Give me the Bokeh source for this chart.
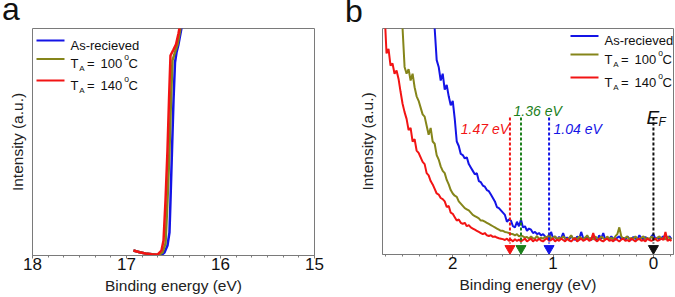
from bokeh.plotting import figure
from bokeh.models import Range1d, SingleIntervalTicker, FixedTicker, Label, Div
from bokeh.layouts import row, column
from bokeh.embed import file_html
from bokeh.resources import INLINE

FONT = "Liberation Sans"
GRAY = "#7a7a7a"
BLUE = "#1414e6"
OLIVE = "#85851a"
RED = "#f21414"
GREEN = "#1b7f1b"
BLACK = "#111111"

# ---------------- panel a data (binding energy eV, normalised intensity) ----------
a_blue_E = [16.926, 16.86, 16.798, 16.73, 16.670, 16.628, 16.596, 16.564, 16.543, 16.532,
            16.516, 16.500, 16.484, 16.468, 16.447, 16.426, 16.404]
a_blue_I = [0.022, 0.014, 0.009, 0.006, 0.001, 0.002, 0.013, 0.044, 0.101, 0.242,
            0.463, 0.683, 0.850, 0.894, 0.930, 0.978, 1.026]
a_olive_E = [16.926, 16.86, 16.798, 16.73, 16.660, 16.617, 16.585, 16.564, 16.543, 16.527,
             16.511, 16.479, 16.457, 16.436, 16.415]
a_olive_I = [0.022, 0.014, 0.009, 0.006, 0.002, 0.013, 0.053, 0.242, 0.463, 0.683,
             0.859, 0.903, 0.930, 0.978, 1.026]
a_red_E = [16.926, 16.86, 16.798, 16.73, 16.670, 16.628, 16.606, 16.585, 16.564, 16.548,
           16.532, 16.500, 16.473, 16.447, 16.426]
a_red_I = [0.022, 0.014, 0.009, 0.006, 0.004, 0.022, 0.066, 0.242, 0.463, 0.683,
           0.881, 0.907, 0.930, 0.978, 1.026]

# ---------------- panel b data ----------------
b_E = [2.70, 2.68, 2.66, 2.64, 2.62, 2.60, 2.58, 2.56, 2.54, 2.52,
       2.50, 2.48, 2.46, 2.44, 2.42, 2.40, 2.38, 2.36, 2.34, 2.32,
       2.30, 2.28, 2.26, 2.24, 2.22, 2.20, 2.18, 2.16, 2.14, 2.12,
       2.10, 2.08, 2.06, 2.04, 2.02, 2.00, 1.98, 1.96, 1.94, 1.92,
       1.90, 1.88, 1.86, 1.84, 1.82, 1.80, 1.78, 1.76, 1.74, 1.72,
       1.70, 1.68, 1.66, 1.64, 1.62, 1.60, 1.58, 1.56, 1.54, 1.52,
       1.50, 1.48, 1.46, 1.44, 1.42, 1.40, 1.38, 1.36, 1.34, 1.32,
       1.30, 1.28, 1.26, 1.24, 1.22, 1.20, 1.18, 1.16, 1.14, 1.12,
       1.10, 1.08, 1.06, 1.04, 1.02, 1.00, 0.98, 0.96, 0.94, 0.92,
       0.90, 0.88, 0.86, 0.84, 0.82, 0.80, 0.78, 0.76, 0.74, 0.72,
       0.70, 0.68, 0.66, 0.64, 0.62, 0.60, 0.58, 0.56, 0.54, 0.52,
       0.50, 0.48, 0.46, 0.44, 0.42, 0.40, 0.38, 0.36, 0.34, 0.32,
       0.30, 0.28, 0.26, 0.24, 0.22, 0.20, 0.18, 0.16, 0.14, 0.12,
       0.10, 0.08, 0.06, 0.04, 0.02, 0.00, -0.02, -0.04, -0.06, -0.08,
       -0.10, -0.12, -0.14, -0.16, -0.18]
b_blue = [2.6, 2.5, 2.4, 2.3, 2.2, 2.1, 2.0, 1.9, 1.8, 1.7,
          1.65, 1.6, 1.55, 1.5, 1.45, 1.4, 1.35, 1.3, 1.27, 1.24,
          1.2, 1.17, 1.14, 1.11, 1.08, 1.04, 1.0, 0.86, 0.83, 0.77,
          0.80, 0.73, 0.75, 0.70, 0.66, 0.68, 0.60, 0.50, 0.48, 0.445,
          0.44, 0.425, 0.43, 0.40, 0.385, 0.37, 0.355, 0.36, 0.325, 0.32,
          0.305, 0.30, 0.285, 0.28, 0.265, 0.25, 0.235, 0.21, 0.205, 0.195,
          0.185, 0.175, 0.145, 0.155, 0.15, 0.125, 0.12, 0.145, 0.125, 0.155,
          0.12, 0.125, 0.105, 0.115, 0.11, 0.095, 0.10, 0.09, 0.095, 0.085,
          0.09, 0.08, 0.075, 0.068, 0.10, 0.072, 0.08, 0.065, 0.078, 0.07,
          0.095, 0.068, 0.075, 0.066, 0.082, 0.07, 0.064, 0.08, 0.068, 0.10,
          0.072, 0.066, 0.08, 0.07, 0.064, 0.078, 0.07, 0.065, 0.085, 0.07,
          0.095, 0.066, 0.074, 0.068, 0.08, 0.07, 0.065, 0.075, 0.08, 0.068,
          0.074, 0.066, 0.08, 0.07, 0.065, 0.078, 0.07, 0.066, 0.085, 0.072,
          0.066, 0.078, 0.07, 0.066, 0.08, 0.09, 0.068, 0.075, 0.066, 0.074,
          0.08, 0.068, 0.074, 0.08, 0.068]
b_olive = [2.0, 1.9, 1.8, 1.7, 1.6, 1.5, 1.4, 1.3, 1.2, 1.1,
           1.0, 0.83, 0.80, 0.82, 0.77, 0.80, 0.74, 0.70, 0.68, 0.65,
           0.62, 0.61, 0.57, 0.53, 0.56, 0.50, 0.49, 0.44, 0.42, 0.39,
           0.37, 0.36, 0.33, 0.31, 0.285, 0.27, 0.26, 0.255, 0.235, 0.225,
           0.215, 0.205, 0.20, 0.195, 0.185, 0.175, 0.17, 0.165, 0.16, 0.15,
           0.15, 0.145, 0.14, 0.135, 0.13, 0.125, 0.12, 0.115, 0.11, 0.105,
           0.105, 0.10, 0.098, 0.095, 0.092, 0.09, 0.085, 0.09, 0.08, 0.085,
           0.08, 0.075, 0.078, 0.07, 0.08, 0.072, 0.07, 0.082, 0.068, 0.075,
           0.07, 0.078, 0.072, 0.09, 0.068, 0.075, 0.08, 0.068, 0.074, 0.07,
           0.08, 0.072, 0.066, 0.074, 0.085, 0.068, 0.074, 0.066, 0.08, 0.072,
           0.068, 0.075, 0.085, 0.068, 0.074, 0.066, 0.08, 0.072, 0.066, 0.08,
           0.072, 0.066, 0.08, 0.068, 0.074, 0.066, 0.08, 0.09, 0.12, 0.08,
           0.068, 0.074, 0.08, 0.066, 0.074, 0.068, 0.08, 0.072, 0.066, 0.074,
           0.08, 0.068, 0.074, 0.066, 0.08, 0.072, 0.066, 0.074, 0.08, 0.068,
           0.074, 0.066, 0.08, 0.072, 0.068]
b_red = [1.3, 1.08, 0.89, 0.91, 0.836, 0.845, 0.80, 0.814, 0.777, 0.72,
         0.667, 0.63, 0.60, 0.55, 0.56, 0.50, 0.51, 0.46, 0.45, 0.43,
         0.41, 0.40, 0.36, 0.35, 0.325, 0.31, 0.29, 0.27, 0.265, 0.25,
         0.245, 0.235, 0.21, 0.215, 0.185, 0.18, 0.165, 0.15, 0.155, 0.14,
         0.135, 0.14, 0.125, 0.13, 0.12, 0.115, 0.11, 0.105, 0.10, 0.095,
         0.09, 0.095, 0.085, 0.082, 0.085, 0.078, 0.08, 0.075, 0.072, 0.07,
         0.068, 0.064, 0.07, 0.06, 0.066, 0.058, 0.068, 0.06, 0.066, 0.058,
         0.064, 0.07, 0.058, 0.064, 0.07, 0.058, 0.066, 0.06, 0.07, 0.062,
         0.058, 0.066, 0.072, 0.06, 0.064, 0.07, 0.058, 0.066, 0.06, 0.07,
         0.064, 0.058, 0.07, 0.062, 0.058, 0.066, 0.072, 0.058, 0.064, 0.07,
         0.06, 0.066, 0.07, 0.06, 0.066, 0.095, 0.064, 0.058, 0.07, 0.062,
         0.058, 0.066, 0.07, 0.06, 0.064, 0.058, 0.07, 0.064, 0.058, 0.066,
         0.07, 0.06, 0.064, 0.058, 0.07, 0.064, 0.058, 0.066, 0.07, 0.06,
         0.064, 0.058, 0.07, 0.064, 0.06, 0.066, 0.07, 0.06, 0.064, 0.07,
         0.064, 0.10, 0.06, 0.066, 0.06]

# onset markers: drawn position (eV), label text, colour
onset_pos = [1.43, 1.32, 1.04, 0.0]
onset_text = ["1.47 eV", "1.36 eV", "1.04 eV", ""]
onset_col = [RED, GREEN, BLUE, BLACK]

series_names = ["As-recieved", "100", "140"]
series_cols = [BLUE, OLIVE, RED]
panel_letters = ["a", "b"]

TOP = 28            # height of the strip that carries the panel letters


def base_fig(left, right, fw, fh, xr):
    p = figure(frame_width=fw, frame_height=fh, output_backend="svg", toolbar_location=None,
               title=None, x_range=Range1d(*xr), y_range=Range1d(0, 1),
               min_border_left=left, min_border_right=right,
               min_border_top=0, min_border_bottom=0, margin=0)
    p.grid.visible = False
    p.outline_line_color = GRAY
    p.outline_line_width = 1
    p.background_fill_color = "white"
    p.border_fill_color = "white"
    xa = p.xaxis[0]
    xa.ticker = SingleIntervalTicker(interval=1, num_minor_ticks=6)
    xa.axis_line_color = GRAY
    xa.major_tick_line_color = GRAY
    xa.minor_tick_line_color = GRAY
    xa.major_tick_in = 0
    xa.major_tick_out = 3
    xa.minor_tick_in = 0
    xa.minor_tick_out = 2
    xa.major_label_standoff = -1
    xa.major_label_text_font = FONT
    xa.major_label_text_font_size = "17px"
    xa.major_label_text_color = "#111111"
    xa.axis_label = "Binding energy (eV)"
    xa.axis_label_text_font = FONT
    xa.axis_label_text_font_size = "15.5px"
    xa.axis_label_text_font_style = "normal"
    xa.axis_label_text_color = "#222222"
    xa.axis_label_standoff = 4
    ya = p.yaxis[0]
    ya.ticker = FixedTicker(ticks=[])
    ya.major_tick_out = 0
    ya.minor_tick_out = 0
    ya.major_label_standoff = 0
    ya.axis_line_color = None
    ya.axis_label = "Intensity (a.u.)"
    ya.axis_label_text_font = FONT
    ya.axis_label_text_font_size = "15.5px"
    ya.axis_label_text_font_style = "normal"
    ya.axis_label_text_color = "#222222"
    ya.axis_label_standoff = 7
    return p


def lab(p, x, y, text, size, color=BLACK, style="normal", align="left"):
    p.add_layout(Label(x=x, y=y, text=text, text_font=FONT, text_font_size=size,
                       text_color=color, text_font_style=style, text_align=align,
                       text_baseline="alphabetic"))


def legend(p, fx, fy, x0, rows):
    # fx, fy convert page pixels to data coordinates of this panel
    for (name, col), yc in zip(zip(series_names, series_cols), rows):
        p.line([fx(x0 - 34), fx(x0 - 6)], [fy(yc), fy(yc)], line_color=col, line_width=2.2)
        base = yc + 4.7
        if name == "As-recieved":
            lab(p, fx(x0), fy(base), name, "13px")
        else:
            lab(p, fx(x0), fy(base), "T", "13px")
            lab(p, fx(x0 + 8.8), fy(base + 4.8), "A", "8px")
            lab(p, fx(x0 + 16.5), fy(base), "=", "13px")
            lab(p, fx(x0 + 30), fy(base), name, "13px")
            lab(p, fx(x0 + 53.8), fy(base - 6.5), "o", "8.5px")
            lab(p, fx(x0 + 58), fy(base), "C", "13px")


# ---------------- strip with the panel letters ----------------
span = ('<span style="position:absolute;left:%dpx;top:%.1fpx;font-family:\'Liberation Sans\';'
        'font-size:32px;line-height:32px;color:%s">%s</span>')
strip = Div(text='<div style="position:relative;width:675px;height:%dpx">' % TOP
                 + span % (2, -6.6, BLACK, panel_letters[0])
                 + span % (345, -5.1, BLACK, panel_letters[1]) + '</div>',
            width=675, height=TOP, margin=0,
            styles={"overflow": "visible", "margin": "0", "padding": "0"})

# ---------------- panel a ----------------
pa = base_fig(32, 24, 282, 227, (18, 15))
fxa = lambda px: 18 - (px - 32) * 3 / 282
fya = lambda py: (255 - py) / 227
for E, I, c in [(a_blue_E, a_blue_I, BLUE), (a_olive_E, a_olive_I, OLIVE), (a_red_E, a_red_I, RED)]:
    pa.line(E, I, line_color=c, line_width=2.5)
legend(pa, fxa, fya, 70, [40, 58.5, 80])

# ---------------- panel b ----------------
pb = base_fig(44, 2, 291, 226, (2.70, -0.20))
fxb = lambda px: 2.70 - (px - 382) * 2.9 / 291
fyb = lambda py: (254 - py) / 226
for I, c in [(b_blue, BLUE), (b_olive, OLIVE), (b_red, RED)]:
    pb.line(b_E, I, line_color=c, line_width=2)

top_I = fyb(117)
bot_I = fyb(243)
for xpos, col in zip(onset_pos, onset_col):
    pb.line([xpos, xpos], [top_I, bot_I], line_color=col, line_width=2, line_dash="3 2")
pb.scatter(onset_pos, [fyb(248)] * len(onset_pos), marker="inverted_triangle", size=10,
           fill_color=onset_col, line_color=onset_col)

lab(pb, fxb(508.5), fyb(128), onset_text[0], "14px", RED, "italic", "right")
lab(pb, fxb(513), fyb(110), onset_text[1], "14px", GREEN, "italic")
lab(pb, fxb(553), fyb(128), onset_text[2], "14px", BLUE, "italic")
lab(pb, fxb(646), fyb(117), "E", "19px", BLACK, "italic")
lab(pb, fxb(658), fyb(121), "F", "12px", BLACK, "italic")

legend(pb, fxb, fyb, 604, [35.5, 54, 77])

layout = column(strip, row(pa, pb, margin=0, spacing=0), margin=0, spacing=0)
html = file_html(layout, INLINE)
html = html.replace("</head>", "<style>html,body{margin:0;padding:0;overflow:hidden}</style></head>", 1)
open("out.html", "w").write(html)
